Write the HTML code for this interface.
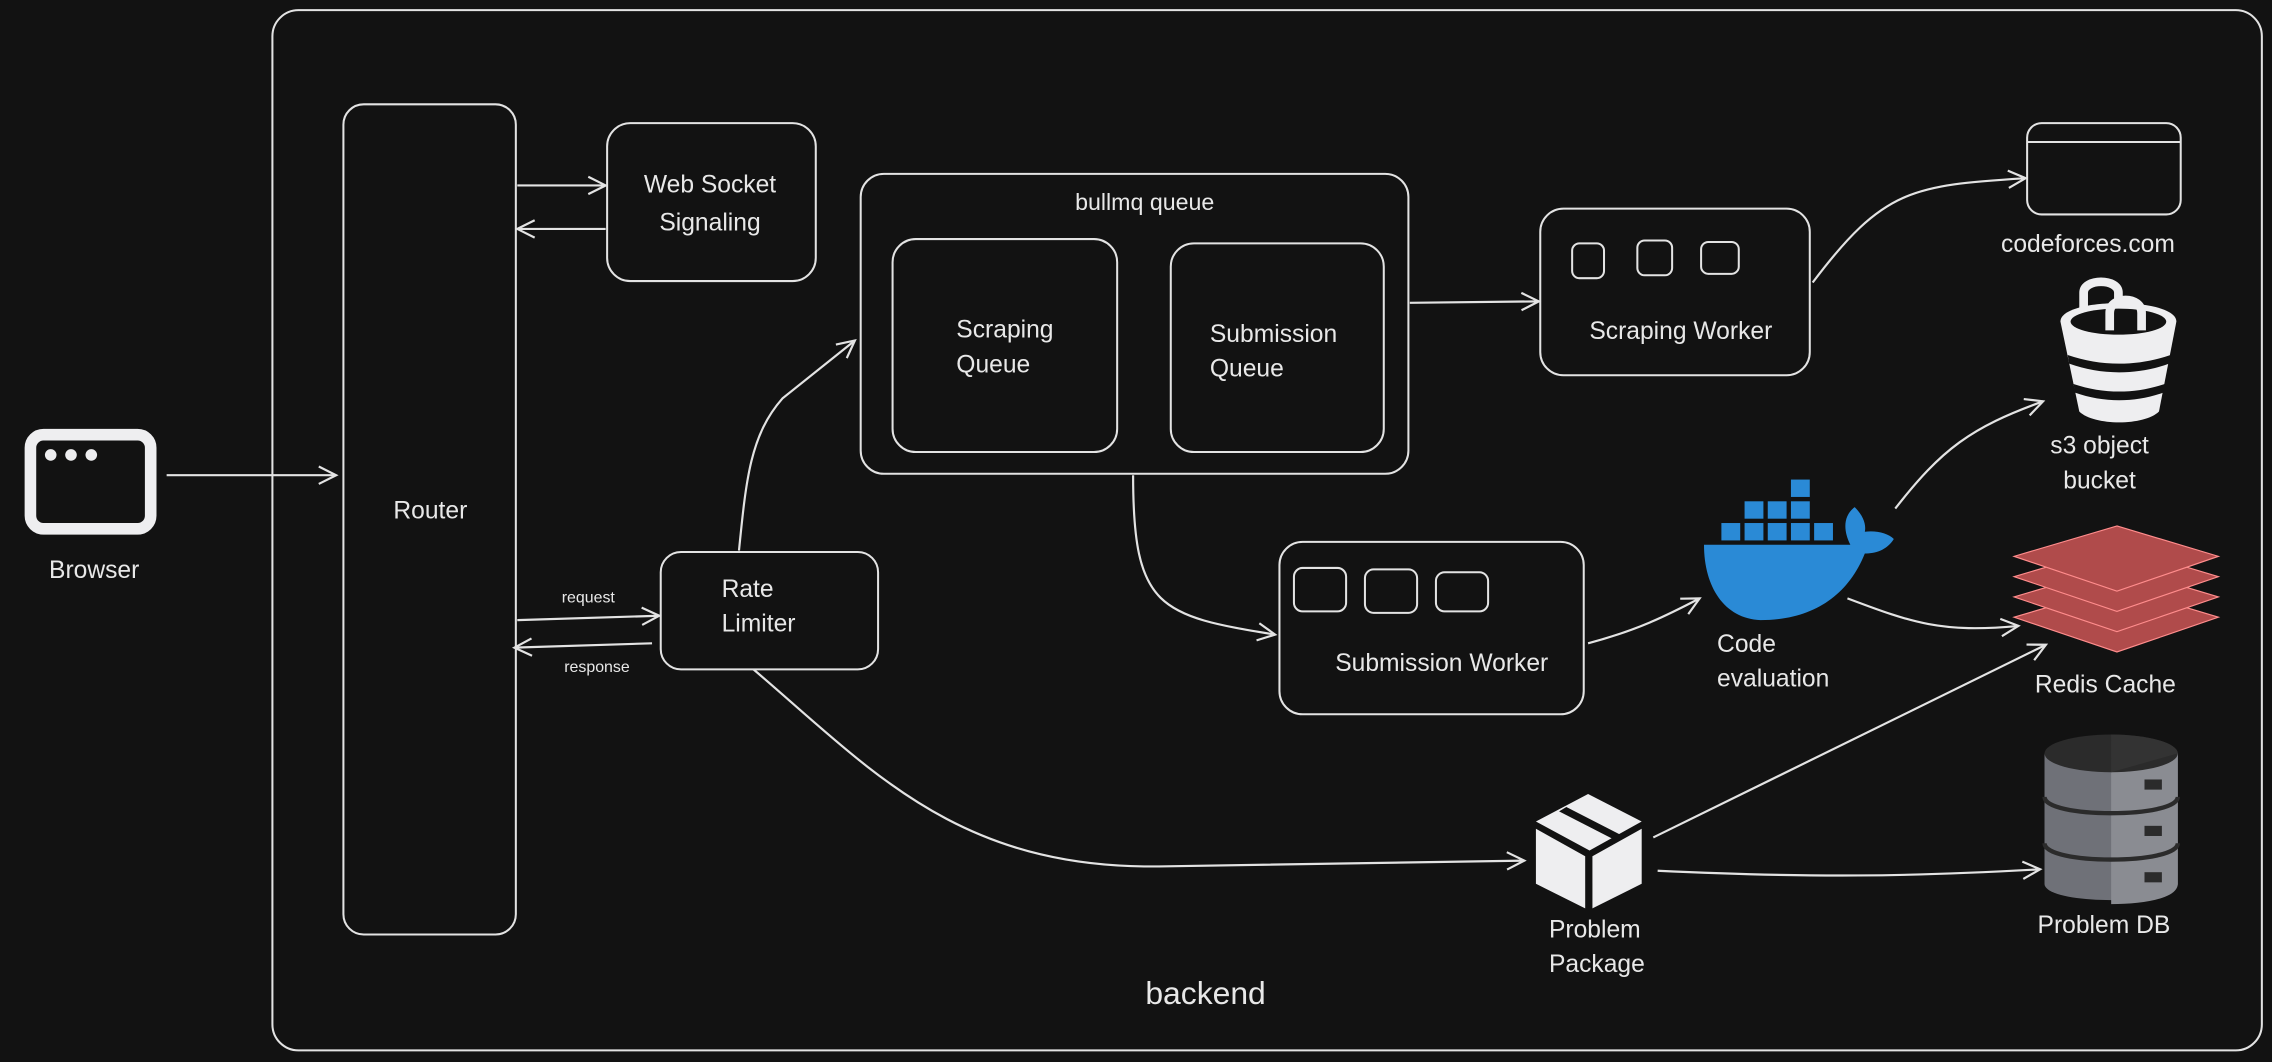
<!DOCTYPE html>
<html><head><meta charset="utf-8"><style>
html,body{margin:0;padding:0;background:#121212;}
svg{display:block}
text{font-family:"Liberation Sans","DejaVu Sans",sans-serif;fill:#e8e8e8;}
</style></head><body>
<svg width="2272" height="1062" viewBox="0 0 1568 733" preserveAspectRatio="none" xmlns="http://www.w3.org/2000/svg">
<defs>
<marker id="a" markerWidth="16" markerHeight="16" refX="14" refY="8" orient="auto" markerUnits="userSpaceOnUse">
<polyline points="2,2 14,8 2,14" fill="none" stroke="#e3e3e3" stroke-width="1.5"/>
</marker>
</defs>
<rect width="1568" height="733" fill="#121212"/>
<g fill="none" stroke="#e3e3e3" stroke-width="1.4">
<rect x="188" y="7" width="1373" height="718" rx="18"/>
<rect x="237" y="72" width="119" height="573" rx="14"/>
<rect x="419" y="85" width="144" height="109" rx="16"/>
<rect x="594" y="120" width="378" height="207" rx="16"/>
<rect x="616" y="165" width="155" height="147" rx="16"/>
<rect x="808" y="168" width="147" height="144" rx="16"/>
<rect x="456" y="381" width="150" height="81" rx="14"/>
<rect x="1063" y="144" width="186" height="115" rx="16"/>
<rect x="1085" y="168" width="22" height="24" rx="5"/>
<rect x="1130" y="166" width="24" height="24" rx="5"/>
<rect x="1174" y="167" width="26" height="22" rx="5"/>
<rect x="883" y="374" width="210" height="119" rx="16"/>
<rect x="893" y="392" width="36" height="30" rx="6"/>
<rect x="942" y="393" width="36" height="30" rx="6"/>
<rect x="991" y="395" width="36" height="27" rx="6"/>
<rect x="1399" y="85" width="106" height="63" rx="10"/>
<line x1="1399" y1="98" x2="1505" y2="98"/>
</g>
<rect x="21" y="300" width="83" height="65" rx="9" fill="none" stroke="#eeeef0" stroke-width="8"/>
<circle cx="35" cy="314" r="4" fill="#eeeef0"/><circle cx="49" cy="314" r="4" fill="#eeeef0"/><circle cx="63" cy="314" r="4" fill="#eeeef0"/>
<g fill="none" stroke="#e3e3e3" stroke-width="1.5" marker-end="url(#a)">
<path d="M115,328 L232,328"/>
<path d="M357,128 L418,128"/>
<path d="M418,158 L357,158"/>
<path d="M357,428 L455,425"/>
<path d="M450,444 L355,447"/>
<path d="M510,380 C515,330 518,300 540,275 L590,235"/>
<path d="M520,462 C600,530 660,600 800,598 L1052,594"/>
<path d="M973,209 L1062,208"/>
<path d="M1251,195 C1300,130 1320,128 1398,123"/>
<path d="M782,328 C782,420 800,425 880,438"/>
<path d="M1096,444 C1130,435 1150,425 1173,413"/>
<path d="M1308,351 C1340,310 1360,295 1410,277"/>
<path d="M1275,413 C1320,430 1340,437 1393,432"/>
<path d="M1141,578 L1412,445"/>
<path d="M1144,601 C1250,606 1320,605 1408,600"/>
</g>
<g fill="#2a8ad6">
<rect x="1236" y="331" width="13" height="12"/>
<rect x="1204" y="346" width="13" height="12"/><rect x="1220" y="346" width="13" height="12"/><rect x="1236" y="346" width="13" height="12"/>
<rect x="1188" y="361" width="13" height="12"/><rect x="1204" y="361" width="13" height="12"/><rect x="1220" y="361" width="13" height="12"/><rect x="1236" y="361" width="13" height="12"/><rect x="1252" y="361" width="13" height="12"/>
<path d="M1176,376 L1277,376 C1272,366 1272,356 1280,350 C1286,356 1288,362 1287,367 C1295,366 1303,368 1307,372 C1302,380 1294,382 1287,382 C1275,412 1250,428 1215,428 C1190,427 1176,405 1176,376 Z"/>
</g>
<g>
<path d="M1438,218 L1438,202 C1438,192 1462,192 1462,202 L1462,218" fill="none" stroke="#eeeef0" stroke-width="6"/>
<path d="M1422,222 C1422,205 1502,205 1502,222 L1490,284 C1480,294 1445,294 1435,284 Z" fill="#eeeef0"/>
<ellipse cx="1462" cy="222" rx="33" ry="9" fill="#121212"/>
<path d="M1456,228 L1456,216 C1456,204 1478,204 1478,216 L1478,228" fill="none" stroke="#eeeef0" stroke-width="6"/>
<path d="M1427,245 C1450,253 1475,253 1498,245 L1497,251 C1475,259 1450,259 1428,251 Z" fill="#121212"/>
<path d="M1431,265 C1452,272 1473,272 1494,265 L1493,271 C1473,278 1452,278 1432,271 Z" fill="#121212"/>
</g>
<g fill="#b04b4b" stroke="#ff8c8c" stroke-width="0.8">
<polygon points="1461,405 1531,426 1461,450 1390,426"/>
<polygon points="1461,391 1531,412 1461,436 1390,412"/>
<polygon points="1461,377 1531,398 1461,422 1390,398"/>
<polygon points="1461,363 1531,384 1461,408 1390,384"/>
</g>
<g>
<path d="M1411,520 L1411,610 C1411,625 1503,625 1503,610 L1503,520 Z" fill="#6f7178"/>
<path d="M1457,520 L1457,624 C1480,624 1503,620 1503,610 L1503,520 Z" fill="#8a8c92"/>
<ellipse cx="1457" cy="520" rx="46" ry="13" fill="#2b2b2b"/>
<path d="M1457,507 A46,13 0 0 1 1503,520 L1457,533 Z" fill="#333"/>
<path d="M1411,550 C1411,565 1503,565 1503,550" fill="none" stroke="#2b2b2b" stroke-width="3"/>
<path d="M1411,582 C1411,597 1503,597 1503,582" fill="none" stroke="#2b2b2b" stroke-width="3"/>
<rect x="1480" y="538" width="12" height="7" fill="#2b2b2b"/>
<rect x="1480" y="570" width="12" height="7" fill="#2b2b2b"/>
<rect x="1480" y="602" width="12" height="7" fill="#2b2b2b"/>
</g>
<g fill="#eeeef0">
<polygon points="1096,548 1133,567 1097,587 1060,567"/>
<polygon points="1060,572 1094,591 1094,627 1060,610"/>
<polygon points="1099,591 1133,572 1133,610 1099,627"/>
<polygon points="1076,560 1113,579 1118,576 1081,557" fill="#121212"/>
</g>
<g font-size="17" text-anchor="middle">
<text x="65" y="399">Browser</text>
<text x="297" y="358">Router</text>
<text x="490" y="133">Web Socket</text>
<text x="490" y="159">Signaling</text>
<text x="790" y="145" font-size="16">bullmq queue</text>
<text x="1160" y="234">Scraping Worker</text>
<text x="995" y="463">Submission Worker</text>
<text x="1441" y="174">codeforces.com</text>
<text x="1449" y="313">s3 object</text>
<text x="1449" y="337">bucket</text>
<text x="1453" y="478">Redis Cache</text>
<text x="1452" y="644">Problem DB</text>
<text x="832" y="693" font-size="22">backend</text>
<text x="406" y="416" font-size="11">request</text>
<text x="412" y="464" font-size="11">response</text>
</g>
<g font-size="17">
<text x="660" y="233">Scraping</text>
<text x="660" y="257">Queue</text>
<text x="835" y="236">Submission</text>
<text x="835" y="260">Queue</text>
<text x="498" y="412">Rate</text>
<text x="498" y="436">Limiter</text>
<text x="1185" y="450">Code</text>
<text x="1185" y="474">evaluation</text>
<text x="1069" y="647">Problem</text>
<text x="1069" y="671">Package</text>
</g>
</svg>
</body></html>
